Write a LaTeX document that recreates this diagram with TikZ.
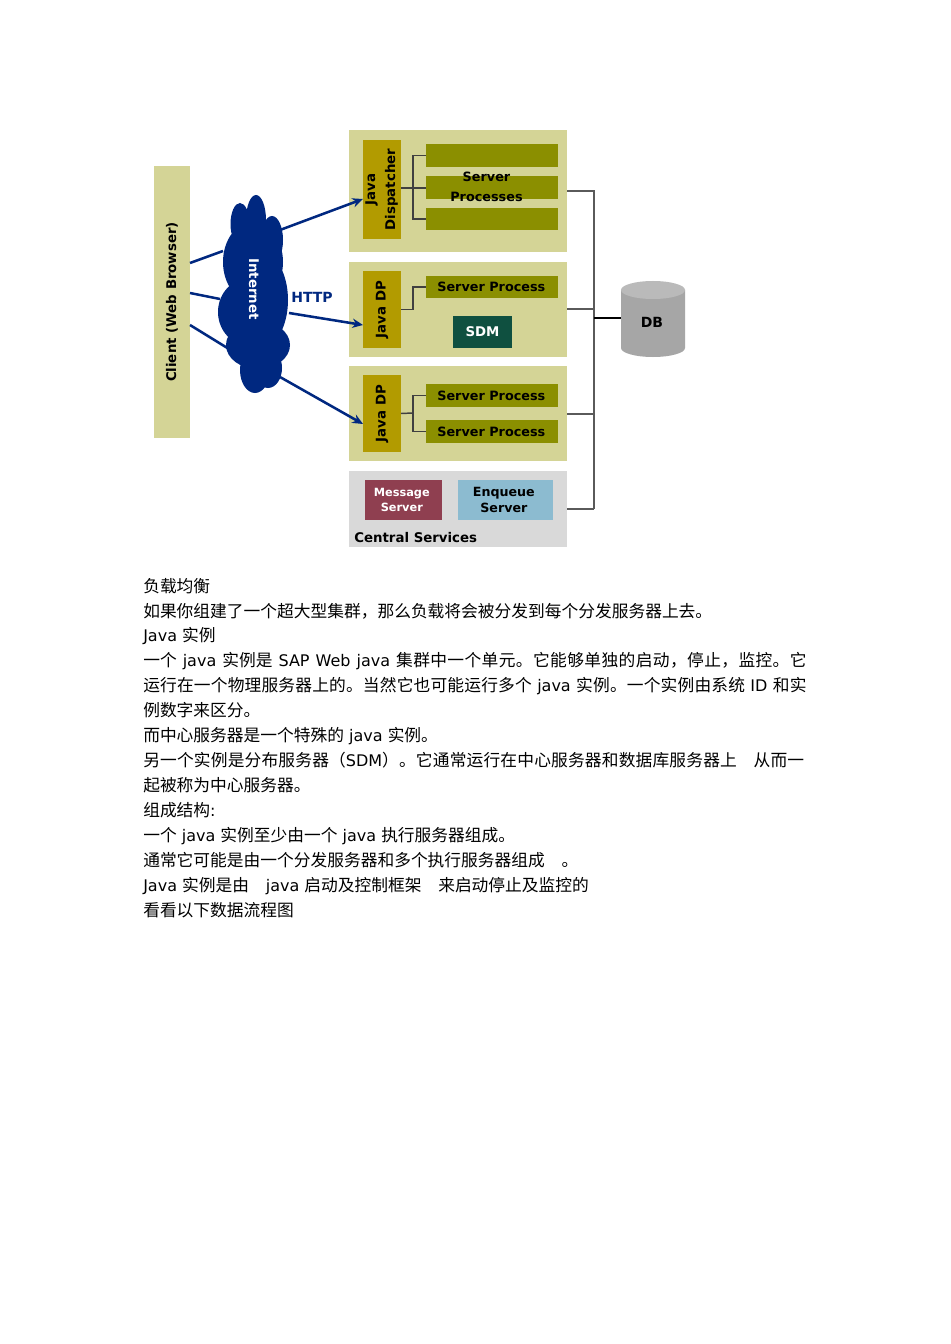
\documentclass[tikz,border=0pt]{standalone}
\usepackage{fontspec}
\usetikzlibrary{arrows.meta}
\setmainfont{DejaVu Sans}
\newfontfamily\cjkfont{Noto Sans CJK SC}
\newfontfamily\cjkfonta{Noto Sans CJK SC}[LetterSpace=1]
\newfontfamily\cjkfontb{Noto Sans CJK SC}[LetterSpace=2.3]
\newfontfamily\dgfont{DejaVu Sans}[BoldFont={DejaVu Sans Bold}]
\newcommand{\cj}[1]{{\cjkfont\fontsize{12.55pt}{15pt}\selectfont #1}}
\newcommand{\cja}[1]{{\cjkfonta\fontsize{12.55pt}{15pt}\selectfont #1}}
\newcommand{\cjb}[1]{{\cjkfontb\fontsize{12.55pt}{15pt}\selectfont #1}}
\newcommand{\jline}[1]{\makebox[497.5pt][s]{#1}}
\newcommand{\fwcomma}{\symbol{"FF0C}}
\newcommand{\fwlp}{\symbol{"FF08}}
\newcommand{\fwrp}{\symbol{"FF09}}
\definecolor{khaki}{RGB}{212,212,150}
\definecolor{dpgold}{RGB}{178,155,0}
\definecolor{barolive}{RGB}{139,143,0}
\definecolor{sdmgreen}{RGB}{15,80,64}
\definecolor{cloudblue}{RGB}{0,40,128}
\definecolor{csgray}{RGB}{217,217,217}
\definecolor{msgred}{RGB}{143,63,80}
\definecolor{enqblue}{RGB}{140,187,208}
\definecolor{dbbody}{RGB}{166,166,166}
\definecolor{dbtop}{RGB}{186,186,186}
\definecolor{buslink}{RGB}{90,90,90}
\newcommand{\bx}[7]{%
  \pgfmathsetmacro{\bxw}{(#4-#2)*0.75}%
  \pgfmathsetmacro{\bxh}{(#5-#3)*0.75}%
  \node[boxbase,#6,minimum width=\bxw pt,minimum height=\bxh pt] (#1) at ({(#2+#4)/2},{(#3+#5)/2}) {#7};}
\tikzset{
  boxbase/.style={inner sep=0pt,outer sep=0pt,draw=none,align=center,font=\dgfont\bfseries\fontsize{9.6pt}{12pt}\selectfont},
  clientbox/.style={fill=khaki},
  groupbox/.style={fill=khaki},
  dpbox/.style={fill=dpgold},
  barbox/.style={fill=barolive},
  sdmbox/.style={fill=sdmgreen,text=white},
  csbox/.style={fill=csgray},
  msgbox/.style={fill=msgred,text=white},
  enqbox/.style={fill=enqblue},
  vertlabel/.style={rotate=90},
  diagtext/.style={inner sep=0pt,font=\dgfont\bfseries\fontsize{10pt}{12pt}\selectfont},
  treeline/.style={draw=black!75,line width=1.1pt},
  busline/.style={draw=buslink,line width=1.5pt},
  dblink/.style={draw=black,line width=2pt},
  weblink/.style={draw=cloudblue,line width=1.9pt},
  webarrow/.style={weblink,-{Stealth[length=8pt,width=7pt]}},
  bodytext/.style={inner sep=0pt,anchor=base west,font=\fontsize{12pt}{15pt}\selectfont},
}
\begin{document}
\begin{tikzpicture}[x=0.75pt,y=-0.75pt]
\useasboundingbox (0,0) rectangle (950,1344);
\fill[white] (0,0) rectangle (950,1344);

% client
\bx{client}{154}{166}{190}{438}{clientbox,text=black}{}
\node[diagtext,vertlabel] (clientlabel) at (172,302) {Client (Web Browser)};

% groups
\bx{g1}{349}{130}{567}{252}{groupbox}{}
\bx{g2}{349}{262}{567}{357}{groupbox}{}
\bx{g3}{349}{366}{567}{461}{groupbox}{}
\bx{g4}{349}{471}{567}{547}{csbox}{}

% dispatchers
\bx{disp}{363}{140}{401}{239}{dpbox,font=\dgfont\bfseries\fontsize{10pt}{12pt}\selectfont}{\rotatebox{90}{\begin{tabular}{@{}c@{}}Java\\[3pt]Dispatcher\end{tabular}}}
\bx{dp2}{363}{271}{401}{348}{dpbox,font=\dgfont\bfseries\fontsize{10pt}{12pt}\selectfont}{\rotatebox{90}{Java DP}}
\bx{dp3}{363}{375}{401}{452}{dpbox,font=\dgfont\bfseries\fontsize{10pt}{12pt}\selectfont}{\rotatebox{90}{Java DP}}

% server bars
\bx{b1}{426}{144}{558}{167}{barbox}{}
\bx{b2}{426}{176}{558}{199}{barbox}{}
\bx{b3}{426}{208}{558}{230}{barbox}{}
\node[diagtext,align=center,font=\dgfont\bfseries\fontsize{9.6pt}{12pt}\selectfont] (splabel) at (486.5,186.5) {Server\\[3pt]Processes};
\bx{b4}{426}{276}{558}{298}{barbox}{Server Process\kern1pt}
\bx{sdm}{453}{316}{512}{348}{sdmbox,font=\dgfont\bfseries\fontsize{10pt}{12pt}\selectfont}{SDM}
\bx{b5}{426}{384}{558}{407}{barbox}{Server Process\kern1pt}
\bx{b6}{426}{420}{558}{443}{barbox}{Server Process\kern1pt}

% central services
\bx{msg}{365}{480}{442}{520}{msgbox,font=\dgfont\bfseries\fontsize{8.5pt}{11pt}\selectfont}{Message\kern2.5pt\\Server\kern2.5pt}
\bx{enq}{458}{480}{553}{520}{enqbox,font=\dgfont\bfseries\fontsize{9.5pt}{12pt}\selectfont}{Enqueue\kern2.5pt\\Server\kern2.5pt}
\node[diagtext,anchor=base west] (cslabel) at (354,542) {Central Services};

% trees
\coordinate (t1) at (413,188);
\coordinate (t2) at (413,309);
\coordinate (t3) at (413,413);
\draw[treeline] (disp.east |- t1) -- (b2.west |- t1);
\draw[treeline] (b1.west) -| (t1) |- (b3.west);
\draw[treeline] (dp2.east) -| (t2) |- (b4.west);
\draw[treeline] (dp3.east) -- (t3);
\draw[treeline] (b5.west) -| (t3) |- (b6.west);

% cloud
\node[inner sep=0pt,minimum width=51pt,minimum height=148pt] (cloud) at (255,294) {};
\fill[cloudblue]
  (240,224) ellipse [x radius=9.5,y radius=21]
  (256,220) ellipse [x radius=10,y radius=25]
  (272,240) ellipse [x radius=11,y radius=24]
  (253,262) ellipse [x radius=30,y radius=40]
  (250,312) ellipse [x radius=32,y radius=34]
  (258,345) ellipse [x radius=32,y radius=24]
  (258,300) ellipse [x radius=30,y radius=50]
  (255,370) ellipse [x radius=15,y radius=23]
  (268,368) ellipse [x radius=14,y radius=20];
\node[diagtext,rotate=-90,text=white] (netlabel) at (254,289) {Internet};
\node[diagtext,text=cloudblue,font=\dgfont\bfseries\fontsize{10.5pt}{12pt}\selectfont] (http) at (312,297) {HTTP};

% web links
\coordinate (c1) at (190,263);
\coordinate (c2) at (190,293);
\coordinate (c3) at (190,325);
\coordinate (n1) at (223,251);
\coordinate (n2) at (220,299);
\coordinate (n3) at (229,349);
\coordinate (n4) at (280,230);
\coordinate (n5) at (289,313);
\coordinate (n6) at (280,377);
\coordinate (a1) at (363,199);
\coordinate (a2) at (363,325);
\coordinate (a3) at (363,424);
\draw[weblink] (c1) -- (n1);
\draw[weblink] (c2) -- (n2);
\draw[weblink] (c3) -- (n3);
\draw[webarrow] (n4) -- (a1);
\draw[webarrow] (n5) -- (a2);
\draw[webarrow] (n6) -- (a3);

% database
\fill[dbbody] (621,290) -- (621,348) arc[start angle=180,end angle=0,x radius=32,y radius=9] -- (685,290) -- cycle;
\fill[dbtop] (653,290) ellipse [x radius=32,y radius=9];
\node[inner sep=0pt,minimum width=48pt,minimum height=57pt,font=\dgfont\bfseries\fontsize{10.5pt}{12pt}\selectfont] (db) at (652,322) {DB};
\coordinate (busTop) at (594,191);
\coordinate (busBot) at (594,509);
\coordinate (busDb) at (594,318);
\draw[busline] (g1.east) -| (busTop) -- (busBot);
\draw[busline] (g2.east) -- (g2.east -| busTop);
\draw[busline] (g3.east) -- (g3.east -| busTop);
\draw[busline] (g4.east) -- (busBot);
\draw[dblink] (busDb) -- (621,318);

% body text
\node[bodytext] (l1) at (143,592) {\cj{负载均衡}};
\node[bodytext] (l2) at (143,617) {\cj{如果你组建了一个超大型集群\fwcomma 那么负载将会被分发到每个分发服务器上去。}};
\node[bodytext] (l3) at (143,641.7) {Java \cj{实例}};
\node[bodytext] (l4) at (143,666.5) {\jline{\cj{一个} java \cj{实例是} SAP Web java \cjb{集群中一个单元。它能够单独的启动\fwcomma 停止\fwcomma 监控。它}}};
\node[bodytext] (l5) at (143,691.5) {\jline{\cja{运行在一个物理服务器上的。当然它也可能运行多个} java \cja{实例。一个实例由系统} ID \cja{和实}}};
\node[bodytext] (l6) at (143,716) {\cj{例数字来区分。}};
\node[bodytext] (l7) at (143,741) {\cj{而中心服务器是一个特殊的} java \cj{实例。}};
\node[bodytext] (l8) at (143,766) {\jline{\cja{另一个实例是分布服务器\fwlp}SDM\cja{\fwrp 。它通常运行在中心服务器和数据库服务器上\hspace{1em}从而一}}};
\node[bodytext] (l9) at (143,791) {\cj{起被称为中心服务器。}};
\node[bodytext] (l10) at (143,816) {\cj{组成结构}:};
\node[bodytext] (l11) at (143,841) {\cj{一个} java \cj{实例至少由一个} java \cj{执行服务器组成。}};
\node[bodytext] (l12) at (143,866) {\cj{通常它可能是由一个分发服务器和多个执行服务器组成\hspace{1em}。}};
\node[bodytext] (l13) at (143,891) {Java \cj{实例是由\hspace{1em}}java \cj{启动及控制框架\hspace{1em}来启动停止及监控的}};
\node[bodytext] (l14) at (143,916) {\cj{看看以下数据流程图}};
\end{tikzpicture}
\end{document}
